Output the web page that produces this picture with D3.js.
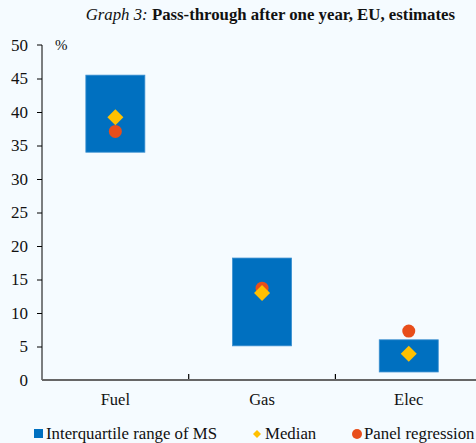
<!DOCTYPE html>
<html>
<head>
<meta charset="utf-8">
<script src="https://cdn.jsdelivr.net/npm/d3@7/dist/d3.min.js"></script>
<style>
  body { margin: 0; background: #f5fbff; }
  svg { display: block; }
</style>
</head>
<body>
<svg width="476" height="443"></svg>
<script>
// data
const categories = ['Fuel', 'Gas', 'Elec'];
const iqrLow = [34.0, 5.1, 1.2];
const iqrHigh = [45.5, 18.2, 6.0];
const medians = [39.2, 13.0, 3.9];
const panel = [37.1, 13.7, 7.3];
const yTicks = [0, 5, 10, 15, 20, 25, 30, 35, 40, 45, 50];
const legendLabels = ['Interquartile range of MS', 'Median', 'Panel regression'];

const blue = '#0070c0';
const gold = '#ffc000';
const orange = '#e84e1b';
const serif = "'Liberation Serif', 'Times New Roman', serif";

const svg = d3.select('svg');
const width = +svg.attr('width');

const margin = {left: 42, top: 45};
const plotBottom = 380;

const x = d3.scaleBand()
	.domain(categories)
	.range([margin.left, margin.left + 3 * 146.7]);

const y = d3.scaleLinear()
	.domain([0, 50])
	.range([plotBottom, margin.top]);

// title
const title = svg.append('text')
	.attr('x', 455)
	.attr('y', 20)
	.attr('text-anchor', 'end')
	.style('font-family', serif)
	.style('font-size', '16.8px')
	.style('fill', '#111');
title.append('tspan').style('font-style', 'italic').text('Graph 3: ');
title.append('tspan').style('font-weight', 'bold').text('Pass-through after one year, EU, estimates');

// y axis
const yAxis = svg.append('g')
	.attr('transform', `translate(${margin.left},0)`)
	.call(d3.axisLeft(y).tickValues(yTicks).tickSize(5).tickPadding(9));
yAxis.select('.domain').attr('stroke', '#000').attr('d', `M-5,${y(50)}H0V${plotBottom}`);
yAxis.selectAll('.tick line').attr('stroke', '#000').filter(d => d === 0 || d === 50).remove();
yAxis.selectAll('.tick text')
	.style('font-family', serif)
	.style('font-size', '17px')
	.style('fill', '#111');

svg.append('text')
	.attr('x', 55)
	.attr('y', 50)
	.style('font-family', serif)
	.style('font-size', '15px')
	.style('fill', '#111')
	.text('%');

// boxes (interquartile range)
const boxW = 59;
svg.append('g').selectAll('rect')
	.data(categories)
	.join('rect')
		.attr('x', d => x(d) + x.bandwidth() / 2 - boxW / 2)
		.attr('y', (d, i) => y(iqrHigh[i]))
		.attr('width', boxW)
		.attr('height', (d, i) => y(iqrLow[i]) - y(iqrHigh[i]))
		.attr('fill', blue)
		.attr('stroke', '#3a8fd0')
		.attr('stroke-width', 0.8);

// x axis
svg.append('line')
	.attr('x1', margin.left)
	.attr('x2', width)
	.attr('y1', plotBottom)
	.attr('y2', plotBottom)
	.attr('stroke', '#666')
	.attr('stroke-width', 2);

svg.append('g').selectAll('line')
	.data(categories.slice(1))
	.join('line')
		.attr('x1', d => x(d))
		.attr('x2', d => x(d))
		.attr('y1', plotBottom - 1)
		.attr('y2', plotBottom - 6)
		.attr('stroke', '#000')
		.attr('stroke-width', 1.2);

svg.append('g').selectAll('text')
	.data(categories)
	.join('text')
		.attr('x', d => x(d) + x.bandwidth() / 2)
		.attr('y', 405)
		.attr('text-anchor', 'middle')
		.style('font-family', serif)
		.style('font-size', '16.5px')
		.style('fill', '#111')
		.text(d => d);

// panel regression circles
svg.append('g').selectAll('circle')
	.data(categories)
	.join('circle')
		.attr('cx', d => x(d) + x.bandwidth() / 2)
		.attr('cy', (d, i) => y(panel[i]))
		.attr('r', 6.5)
		.attr('fill', orange);

// median diamonds
const diamond = d3.symbol().type(d3.symbolSquare).size(128);
svg.append('g').selectAll('path')
	.data(categories)
	.join('path')
		.attr('d', diamond)
		.attr('transform', (d, i) => `translate(${x(d) + x.bandwidth() / 2},${y(medians[i])}) rotate(45)`)
		.attr('fill', gold);

// legend
const legend = svg.append('g');
legend.append('rect')
	.attr('x', 34).attr('y', 429).attr('width', 9).attr('height', 9)
	.attr('fill', blue);
legend.append('path')
	.attr('d', d3.symbol().type(d3.symbolSquare).size(32))
	.attr('transform', 'translate(257,434) rotate(45)')
	.attr('fill', gold);
legend.append('circle')
	.attr('cx', 357).attr('cy', 434).attr('r', 5)
	.attr('fill', orange);

const legendX = [46, 265, 364];
legend.selectAll('text')
	.data(legendLabels)
	.join('text')
		.attr('x', (d, i) => legendX[i])
		.attr('y', 439)
		.style('font-family', serif)
		.style('font-size', '16.8px')
		.style('fill', '#111')
		.text(d => d);
</script>
</body>
</html>
